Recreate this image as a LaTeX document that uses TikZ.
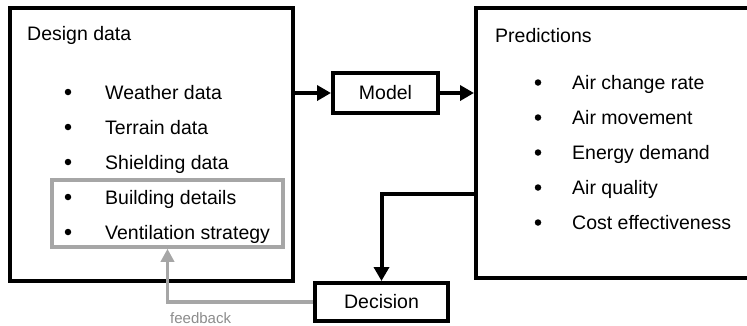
\documentclass[tikz,border=0pt]{standalone}
\usepackage{fontspec}
\setmainfont{Liberation Sans}
\usetikzlibrary{arrows.meta,positioning}
\definecolor{fbgray}{HTML}{A6A6A6}
\definecolor{fbtext}{HTML}{8C8C8C}
\tikzset{
  block/.style={draw, rectangle, line width=4pt, inner sep=0pt},
  flow/.style={line width=4pt, -{Triangle[length=14pt,width=15pt]}},
  fbflow/.style={line width=3.5pt, draw=fbgray, -{Triangle[length=13pt,width=13pt]}},
  item/.style={anchor=base west, inner sep=0pt},
  dot/.style={circle, fill, inner sep=0pt, minimum size=6.5pt}
}

\begin{document}
\begin{tikzpicture}[x=1pt, y=-1pt, font=\fontsize{19.5}{23}\selectfont]
    \useasboundingbox (0,0) rectangle (747,325);
    \clip (0,0) rectangle (747,325);

    % main blocks
    \node[block, minimum width=283pt, minimum height=273pt] (design) at (151.5,144) {};
    \node[block, minimum width=300pt, minimum height=270pt] (pred) at (626,142.5) {};
    \node[block, minimum width=105pt, minimum height=40pt] (model) at (385.5,93) {Model};
    \node[block, minimum width=133pt, minimum height=38pt] (decision) at (381.5,302) {Decision};
    \node[block, line width=3.5pt, draw=fbgray, minimum width=231pt, minimum height=67pt] (group) at (167.5,213.5) {};

    % headings
    \node[item] (designtitle) at (27,40) {Design data};
    \node[item] (predtitle) at (495,42) {Predictions};

    % bullet lists
    \foreach \txt [count=\i] in {Weather data, Terrain data, Shielding data,
                                 Building details, Ventilation strategy} {
        \node[dot] (dinb\i) at (68,57+35*\i) {};
        \node[item] (din\i) at (105,64+35*\i) {\txt};
    }
    \foreach \txt [count=\i] in {Air change rate, Air movement, Energy demand,
                                 Air quality, Cost effectiveness} {
        \node[dot] (poutb\i) at (538,47.5+35*\i) {};
        \node[item] (pout\i) at (572,54.5+35*\i) {\txt};
    }

    % connectors
    \draw[flow] (design.east |- model.west) -- (model.west);
    \draw[flow] (model.east) -- (model.east -| pred.west);
    \draw[flow] ([yshift=-51pt]pred.west) -| (decision.north);
    \draw[fbflow] (decision.west) -| (group.south);
    \node[item, text=fbtext, font=\fontsize{15}{18}\selectfont] (fb) at (170,323) {feedback};
\end{tikzpicture}
\end{document}
